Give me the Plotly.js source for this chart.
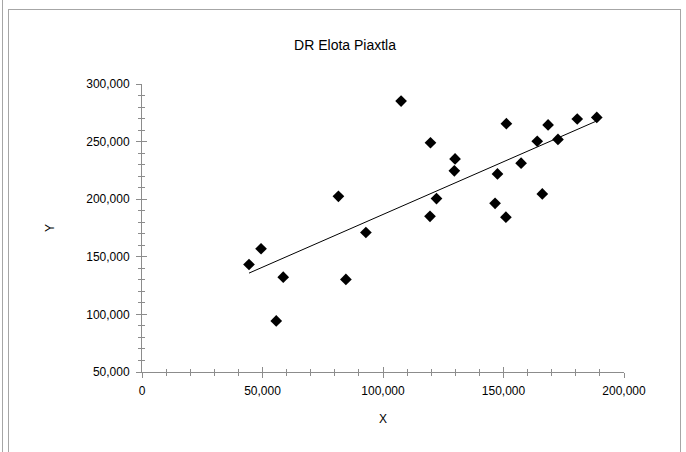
<!DOCTYPE html>
<html>
<head>
<meta charset="utf-8">
<script src="https://cdn.plot.ly/plotly-3.0.1.min.js"></script>
<style>
  html, body { margin: 0; padding: 0; background: #ffffff; }
  #wrap { position: relative; width: 686px; height: 452px; overflow: hidden; background: #fff; }
  #edge { position: absolute; left: 2px; top: 0; width: 1px; height: 452px; background: #a6a6a6; }
  #frame { position: absolute; left: 8px; top: 9px; width: 671px; height: 460px;
           border: 1px solid #a6a6a6; border-bottom: none; }
  #chart { position: absolute; left: 0; top: 0; width: 686px; height: 452px; }
</style>
</head>
<body>
<div id="wrap">
  <div id="edge"></div>
  <div id="frame"></div>
  <div id="chart"></div>
</div>
<script>
// Data
const xValues = [44400, 49400, 55700, 58600, 81500, 84600, 92900, 107500, 119700, 119500, 122200, 129900,
                 129600, 146500, 147500, 151200, 151000, 157300, 164000, 166100, 168500, 172600, 180600, 188700];
const yValues = [143300, 157000, 94300, 132300, 202500, 130400, 171100, 285200, 249000, 185100, 200500, 235000,
                 224600, 196400, 221900, 265600, 184400, 231300, 250300, 204600, 264500, 251900, 269600, 271000];
const chartTitle = "DR Elota Piaxtla";
const xTitle = "X";
const yTitle = "Y";

// Least-squares trend line over the data extent
const n = xValues.length;
const mx = xValues.reduce((a, b) => a + b, 0) / n;
const my = yValues.reduce((a, b) => a + b, 0) / n;
let sxy = 0, sxx = 0;
for (let i = 0; i < n; i++) { sxy += (xValues[i] - mx) * (yValues[i] - my); sxx += (xValues[i] - mx) ** 2; }
const slope = sxy / sxx, intercept = my - slope * mx;
const xMin = Math.min(...xValues), xMax = Math.max(...xValues);
const trendX = [xMin, xMax];
const trendY = trendX.map(v => intercept + slope * v);

const font = "Liberation Sans, Arial, sans-serif";
const axisColor = "#8c8c8c";

const traces = [
  { x: trendX, y: trendY, type: "scatter", mode: "lines",
    line: { color: "#000000", width: 1 }, hoverinfo: "skip", showlegend: false },
  { x: xValues, y: yValues, type: "scatter", mode: "markers",
    marker: { symbol: "diamond", size: 9, color: "#000000" }, showlegend: false },
  // invisible helper to host the overlaying axes (cross ticks)
  { x: [0], y: [50000], xaxis: "x2", yaxis: "y2", mode: "markers",
    marker: { opacity: 0 }, hoverinfo: "skip", showlegend: false }
];

const commonX = {
  range: [0, 200000], dtick: 50000, tick0: 0,
  showgrid: false, zeroline: false, showline: true, linecolor: axisColor, linewidth: 1,
  tickcolor: axisColor, ticklen: 5, tickwidth: 1,
  minor: { dtick: 10000, ticklen: 3, tickcolor: axisColor, showgrid: false }
};
const commonY = {
  range: [50000, 300000], dtick: 50000, tick0: 0,
  showgrid: false, zeroline: false, showline: true, linecolor: axisColor, linewidth: 1,
  tickcolor: axisColor, ticklen: 5, tickwidth: 1,
  minor: { dtick: 10000, ticklen: 3, tickcolor: axisColor, showgrid: false }
};

const layout = {
  width: 686, height: 452,
  paper_bgcolor: "rgba(0,0,0,0)", plot_bgcolor: "rgba(0,0,0,0)",
  margin: { l: 142, r: 62, t: 84, b: 80, pad: 0 },
  font: { family: font, size: 12, color: "#000000" },
  title: { text: chartTitle, x: 0.503, xref: "container", xanchor: "center",
           y: 0.9, yref: "container", yanchor: "middle",
           font: { family: font, size: 14, color: "#000000" } },
  xaxis: Object.assign({}, commonX, {
    ticks: "outside", minor: Object.assign({}, commonX.minor, { ticks: "outside" }),
    tickformat: ",d", tickfont: { family: font, size: 12, color: "#000000" },
    ticklabelstandoff: 3,
    title: { text: xTitle, font: { family: font, size: 12, color: "#000000" }, standoff: 17 }
  }),
  yaxis: Object.assign({}, commonY, {
    ticks: "outside", minor: Object.assign({}, commonY.minor, { ticks: "outside" }),
    tickformat: ",d", tickfont: { family: font, size: 12, color: "#000000" },
    ticklabelstandoff: 4,
    title: { text: yTitle, font: { family: font, size: 12, color: "#000000" }, standoff: 29 }
  }),
  xaxis2: Object.assign({}, commonX, {
    overlaying: "x", anchor: "y2", side: "bottom", ticks: "inside",
    minor: Object.assign({}, commonX.minor, { ticks: "inside" }), showticklabels: false
  }),
  yaxis2: Object.assign({}, commonY, {
    overlaying: "y", anchor: "x2", side: "left", ticks: "inside",
    minor: Object.assign({}, commonY.minor, { ticks: "inside" }), showticklabels: false
  }),
  showlegend: false,
  hovermode: false
};

Plotly.newPlot("chart", traces, layout, { displayModeBar: false, staticPlot: true });
</script>
</body>
</html>
